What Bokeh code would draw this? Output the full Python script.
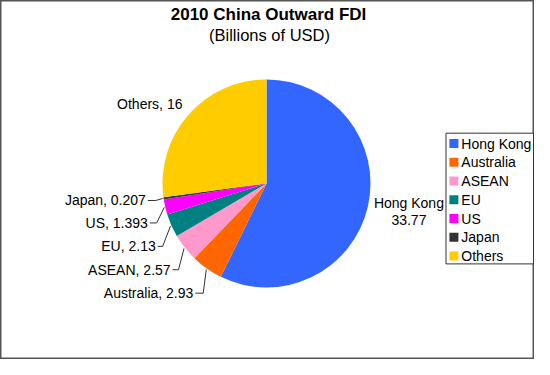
import numpy as np
from bokeh.plotting import figure
from bokeh.models import Range1d
from bokeh.core.properties import value
from bokeh.embed import file_html
from bokeh.resources import INLINE

categories = ["Hong Kong", "Australia", "ASEAN", "EU", "US", "Japan", "Others"]
values = [33.77, 2.93, 2.57, 2.13, 1.393, 0.207, 16]
value_labels = ["33.77", "2.93", "2.57", "2.13", "1.393", "0.207", "16"]
colors = ["#3366FF", "#FF6600", "#FF99CC", "#008080", "#FF00FF", "#333333", "#FFCC00"]
title_text = "2010 China Outward FDI"
subtitle_text = "(Billions of USD)"

W, H = 534, 359
FONT = value("Liberation Sans")
SX = W / 540.0
SY = H / 368.0


def fx(px):
    return (px - 5) * SX


def fy(py):
    return H - (py - 4) * SY


p = figure(width=W, height=H, output_backend="svg", toolbar_location=None,
           x_axis_type=None, y_axis_type=None, min_border=0,
           x_range=Range1d(0, W), y_range=Range1d(0, H))
p.grid.visible = False
p.outline_line_color = "#555555"
p.outline_line_width = 2
p.background_fill_color = "white"
p.border_fill_color = "white"

# pie
cx, cy, r = fx(274), fy(191.5), 104
vals = np.array(values)
frac = np.cumsum(vals) / vals.sum()
starts = np.concatenate([[0], frac[:-1]])
start_ang = np.pi / 2 - 2 * np.pi * starts
end_ang = np.pi / 2 - 2 * np.pi * frac
p.wedge(x=cx, y=cy, radius=r, start_angle=list(start_ang), end_angle=list(end_ang),
        direction="clock", fill_color=colors, line_color=None)
mid_ang = (start_ang + end_ang) / 2

# title
p.text(x=[fx(276)], y=[fy(18.5)], text=[title_text], text_font=FONT,
       text_font_size="17px", text_font_style="bold", text_align="center",
       text_baseline="middle", text_color="black")
p.text(x=[fx(277)], y=[fy(39.5)], text=[subtitle_text], text_font=FONT,
       text_font_size="16.5px", text_align="center", text_baseline="middle",
       text_color="black")

# Hong Kong label
p.text(x=[fx(418), fx(418)], y=[fy(212), fy(229)], text=[categories[0], value_labels[0]],
       text_font=FONT, text_font_size="14px", text_align="center",
       text_baseline="middle", text_color="black")

# Others label
p.text(x=[fx(189)], y=[fy(110)], text=[f"{categories[6]}, {value_labels[6]}"],
       text_font=FONT, text_font_size="14px", text_align="right",
       text_baseline="middle", text_color="black")

# left labels with leader lines (Australia..Japan)
lab_pos = {1: (200, 304), 2: (177, 280), 3: (162, 256), 4: (154, 232), 5: (152, 209)}
elbow_dx = {1: 10, 2: 8, 3: 7, 4: 9, 5: 10}
xs, ys, lx, ly, lt = [], [], [], [], []
for i, (tx, ty) in lab_pos.items():
    lx.append(fx(tx))
    ly.append(fy(ty))
    lt.append(f"{categories[i]}, {value_labels[i]}")
    ex = cx + (r + 1) * np.cos(mid_ang[i])
    ey = cy + (r + 1) * np.sin(mid_ang[i])
    xs.append([fx(tx + 2), fx(tx + elbow_dx[i]), ex])
    ys.append([fy(ty), fy(ty), ey])
p.multi_line(xs=xs, ys=ys, line_color="#333333", line_width=1)
p.text(x=lx, y=ly, text=lt, text_font=FONT, text_font_size="14px",
       text_align="right", text_baseline="middle", text_color="black")

# legend
p.quad(left=[fx(455.5)], right=[fx(544)], top=[fy(140)], bottom=[fy(274)],
       fill_color="white", line_color="#333333", line_width=1)
ly0 = [fy(150.7 + 19.2 * k) for k in range(len(categories))]
p.rect(x=[fx(463.5)] * len(categories), y=ly0, width=9, height=9,
       fill_color=colors, line_color=None)
p.text(x=[fx(471)] * len(categories), y=ly0, text=categories, text_font=FONT,
       text_font_size="14px", text_align="left", text_baseline="middle",
       text_color="black")

open("out.html", "w").write(file_html(p, INLINE))
